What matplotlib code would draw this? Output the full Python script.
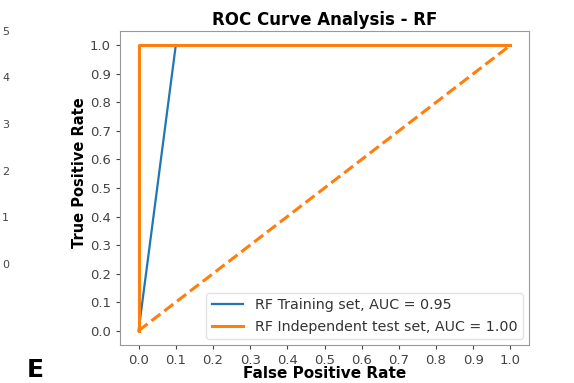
import matplotlib
matplotlib.use("Agg")
import matplotlib.pyplot as plt

# Data
train_fpr = [0.0, 0.1, 1.0]
train_tpr = [0.0, 1.0, 1.0]
test_fpr = [0.0, 0.0, 1.0]
test_tpr = [0.0, 1.0, 1.0]
diag = [0.0, 1.0]
train_label = "RF Training set, AUC = 0.95"
test_label = "RF Independent test set, AUC = 1.00"
ticks = [0.0, 0.1, 0.2, 0.3, 0.4, 0.5, 0.6, 0.7, 0.8, 0.9, 1.0]
side_labels = ["5", "4", "3", "2", "1", "0"]

W, H = 574, 383
fig = plt.figure(figsize=(W / 100, H / 100), dpi=100)
ax = fig.add_axes([120 / W, 1 - 345 / H, (529 - 120) / W, (345 - 31) / H])

ax.plot(train_fpr, train_tpr, color="#1f77b4", lw=1.6, label=train_label)
ax.plot(test_fpr, test_tpr, color="#ff7f0e", lw=2.2, label=test_label)
ax.plot(diag, diag, color="#ff7f0e", lw=2.2, ls="--")

ax.set_xticks(ticks)
ax.set_yticks(ticks)
ax.set_xticklabels([f"{t:.1f}" for t in ticks])
ax.set_yticklabels([f"{t:.1f}" for t in ticks])
ax.tick_params(labelsize=9.5, colors="#444444", length=3)
for s in ax.spines.values():
    s.set_color("#999999")

ax.set_title("ROC Curve Analysis - RF", fontsize=12, fontweight="bold", pad=4)
ax.set_xlabel("False Positive Rate", fontsize=11, fontweight="bold")
ax.xaxis.set_label_coords((325 - 120) / 409, -(373 - 345) / 314)
ax.xaxis.label.set_va("center")
ax.set_ylabel("True Positive Rate", fontsize=10.5, fontweight="bold")
ax.yaxis.set_label_coords(-(120 - 80) / 409, (345 - 173) / 314)
ax.yaxis.label.set_va("center")
ax.legend(loc="lower right", fontsize=10.3, frameon=True, framealpha=0.8,
          edgecolor="#dddddd", handlelength=2.2, borderaxespad=0.4,
          labelcolor="#333333")

# fragments of the neighbouring panel
ys = [32, 78, 125, 172, 218, 265]
for lab, y in zip(side_labels, ys):
    fig.text(2 / W, 1 - y / H, lab, ha="left", va="center", fontsize=8, color="#444444")
fig.text(27 / W, 1 / H, "E", ha="left", va="bottom", fontsize=18, fontweight="bold")

fig.savefig("out.png", dpi=100)
